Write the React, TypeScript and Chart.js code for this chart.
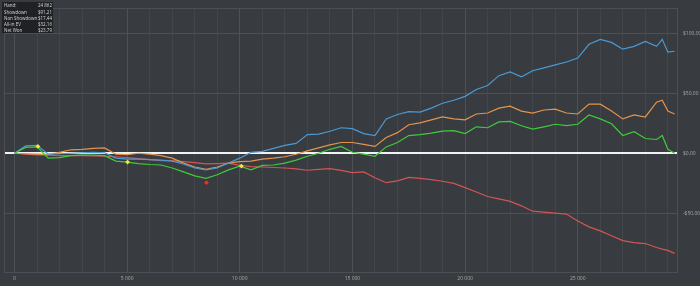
import React, { useEffect, useRef } from 'react';
import { Chart, registerables } from 'chart.js';

Chart.register(...registerables);

const hands = [
  0, 500, 1000, 1500, 2000, 2500, 3000, 3500, 4000, 4500, 5000, 5500, 6000, 6500, 7000,
  7500, 8000, 8500, 9000, 9500, 10000, 10500, 11000, 11500, 12000, 12500, 13000, 13500, 14000, 14500,
  15000, 15500, 16000, 16500, 17000, 17500, 18000, 18500, 19000, 19500, 20000, 20500, 21000, 21500, 22000,
  22500, 23000, 23500, 24000, 24500, 25000, 25500, 26000, 26500, 27000, 27500, 28000, 28500, 28750, 29000, 29300,
];

const showdown = [
  0, 6.1, 6.6, -0.8, -0.4, 0, 0.4, 0.8, 0.4, -4.1, -4.9, -4.9, -5.3, -5.7, -6.6,
  -9.0, -12.3, -13.9, -12.3, -8.2, -4.1, 0.8, 1.6, 4.1, 6.6, 8.2, 15.6, 16.0, 18.4, 21.3,
  20.5, 16.4, 14.8, 28.7, 32.4, 34.8, 34.4, 37.7, 41.8, 44.3, 47.5, 53.3, 56.6, 64.8, 68.0,
  63.9, 68.9, 71.3, 73.8, 76.2, 79.5, 91.0, 95.1, 92.6, 86.9, 89.3, 93.4, 89.3, 95.1, 84.4, 85.2,
];

const allInEV = [
  0, -0.4, -0.8, -1.2, 0.8, 2.9, 3.3, 4.1, 4.5, -0.8, -1.2, 0, -0.8, -2.0, -4.1,
  -8.2, -11.5, -13.5, -11.5, -8.2, -7.0, -6.6, -4.9, -4.1, -2.9, -0.8, 2.0, 4.5, 7.0, 9.0,
  9.0, 7.4, 5.7, 13.1, 17.2, 23.8, 25.4, 27.9, 30.3, 28.7, 27.9, 32.8, 33.6, 37.7, 39.3,
  35.2, 33.6, 36.1, 36.9, 33.6, 32.8, 41.0, 41.0, 35.2, 28.7, 32.0, 30.3, 42.6, 44.3, 35.2, 32.8,
];

const netWon = [
  0, 4.9, 5.3, -4.1, -3.7, -2.0, -1.6, -1.6, -2.0, -6.6, -7.4, -8.6, -9.4, -9.8, -12.3,
  -15.6, -18.9, -20.9, -18.0, -13.9, -10.7, -13.9, -10.2, -9.8, -8.2, -5.7, -2.5, 0, 3.3, 5.7,
  0.8, -0.8, -2.5, 5.3, 9.0, 14.8, 15.6, 16.8, 18.4, 18.9, 16.4, 22.1, 21.3, 26.2, 26.6,
  23.0, 20.1, 22.1, 24.2, 23.0, 24.2, 32.0, 28.7, 24.6, 14.8, 18.0, 12.3, 11.5, 14.8, 3.3, 0,
];

const nonShowdown = [
  0, -0.8, -1.4, -1.6, -1.9, -1.9, -2.0, -2.3, -2.5, -2.9, -3.7, -4.5, -5.3, -6.1, -6.1,
  -7.0, -7.8, -8.8, -8.6, -8.2, -10.1, -11.1, -11.5, -11.9, -12.3, -13.1, -14.2, -13.5, -12.9, -14.3,
  -16.1, -15.6, -20.5, -24.6, -23.0, -20.1, -20.9, -22.1, -23.4, -25.2, -28.7, -32.4, -36.1, -38.1, -40.2,
  -43.9, -48.4, -49.2, -50.0, -50.8, -56.6, -61.5, -64.8, -68.9, -73.0, -74.6, -75.4, -78.7, -80.0, -81.1, -83.6,
];

const starHands = [1040, 5020, 10070];
const starValues = [5.7, -7.4, -10.7];
const redMarkHands = [8520];
const redMarkValues = [-24.6];

const xGridTicks = [
  0, 1000, 2000, 3000, 4000, 5000, 6000, 7000, 8000, 9000, 10000, 11000, 12000, 13000, 14000,
  15000, 16000, 17000, 18000, 19000, 20000, 21000, 22000, 23000, 24000, 25000, 26000, 27000, 28000, 29000,
];
const yTicks = [-50, 0, 50, 100];

const legendLabels = ['Hand:', 'Showdown', 'Non Showdown', 'All-in EV', 'Net Won'];
const legendValues = ['24 862', '$91,21', '$17,44', '$32,16', '$23,79'];

const BG = '#383b3f';
const FONT = '"Open Sans", "DejaVu Sans", sans-serif';

const fmtHands = (v: number) => String(v).replace(/\B(?=(\d{3})+(?!\d))/g, ' ');
const fmtMoney = (v: number) => (v < 0 ? '-$' : '$') + Math.abs(v).toFixed(2).replace('.', ',');

export default function App() {
  const ref = useRef<HTMLCanvasElement | null>(null);

  useEffect(() => {
    document.body.style.margin = '0';
    document.body.style.background = BG;
    const canvas = ref.current;
    if (!canvas) return;

    const bgPlugin = {
      id: 'bgPlugin',
      beforeDraw(chart: any) {
        const c = chart.ctx;
        c.save();
        c.fillStyle = BG;
        c.fillRect(0, 0, chart.width, chart.height);
        c.restore();
      },
      afterDraw(chart: any) {
        const c = chart.ctx;
        const a = chart.chartArea;
        c.save();
        c.strokeStyle = '#4c4f54';
        c.lineWidth = 1;
        c.strokeRect(a.left + 0.5, a.top + 0.5, a.right - a.left - 1, a.bottom - a.top - 1);
        // legend box
        c.fillStyle = 'rgba(30,32,35,0.95)';
        c.fillRect(2, 2, 51, 31);
        c.font = '4.5px ' + FONT;
        c.fillStyle = '#d6d6d6';
        c.textBaseline = 'middle';
        const rowsY = [6, 12.3, 18.6, 24.7, 30.6];
        legendLabels.forEach((lab, i) => {
          c.textAlign = 'left';
          c.fillText(lab, 4, rowsY[i]);
          c.textAlign = 'right';
          c.fillText(legendValues[i], 52, rowsY[i]);
        });
        c.restore();
      },
    };

    const mk = (arr: number[]) => hands.map((h, i) => ({ x: h, y: arr[i] }));

    const lineDs = (label: string, arr: number[], color: string) => ({
      type: 'line' as const,
      label,
      data: mk(arr),
      borderColor: color,
      backgroundColor: color,
      borderWidth: 1.2,
      pointRadius: 0,
      tension: 0,
      fill: false,
    });

    const chart = new Chart(canvas, {
      type: 'line',
      data: {
        datasets: [
          {
            type: 'scatter' as const,
            label: 'All-in marks',
            data: starHands.map((h, i) => ({ x: h, y: starValues[i] })),
            pointStyle: 'rectRot',
            pointRadius: 2.4,
            backgroundColor: '#f3e63c',
            borderColor: '#f3e63c',
            borderWidth: 0,
            order: -1,
          },
          {
            type: 'scatter' as const,
            label: 'Low mark',
            data: redMarkHands.map((h, i) => ({ x: h, y: redMarkValues[i] })),
            pointStyle: 'rectRot',
            pointRadius: 2.4,
            backgroundColor: '#d63a3a',
            borderColor: '#d63a3a',
            borderWidth: 0,
            order: -1,
          },
          { ...lineDs('Net Won', netWon, '#3ecb3c'), order: 0 },
          { ...lineDs('Showdown', showdown, '#4a9ad4'), order: 1 },
          { ...lineDs('All-in EV', allInEV, '#e3944c'), order: 2 },
          { ...lineDs('Non Showdown', nonShowdown, '#d25555'), order: 3 },
        ] as any,
      },
      options: {
        animation: false,
        responsive: false,
        maintainAspectRatio: false,
        layout: { padding: { left: 2, top: 3, right: 0, bottom: 0 } },
        plugins: { legend: { display: false }, tooltip: { enabled: false } },
        scales: {
          x: {
            type: 'linear',
            position: 'bottom',
            min: -465,
            max: 29450,
            afterBuildTicks: (s: any) => {
              s.ticks = xGridTicks.map((v) => ({ value: v }));
            },
            afterFit: (s: any) => {
              s.height = 13;
            },
            border: { display: false },
            grid: {
              drawTicks: false,
              color: (ctx: any) =>
                ctx.tick && ctx.tick.value % 5000 === 0 ? '#4d5055' : '#42454a',
              lineWidth: 1,
            },
            ticks: {
              autoSkip: false,
              maxRotation: 0,
              padding: 3,
              color: '#a9a9a9',
              font: { size: 5, family: FONT },
              callback: (v: any) => (Number(v) % 5000 === 0 ? fmtHands(Number(v)) : ''),
            },
          },
          y: {
            type: 'linear',
            position: 'right',
            min: -100,
            max: 121.3,
            afterBuildTicks: (s: any) => {
              s.ticks = yTicks.map((v) => ({ value: v }));
            },
            afterFit: (s: any) => {
              s.width = 22;
            },
            border: { display: false },
            grid: {
              drawTicks: false,
              color: (ctx: any) => (ctx.tick && ctx.tick.value === 0 ? '#f2f2f2' : '#4d5055'),
              lineWidth: (ctx: any) => (ctx.tick && ctx.tick.value === 0 ? 2 : 1),
            },
            ticks: {
              padding: 5,
              color: '#a9a9a9',
              font: { size: 5, family: FONT },
              callback: (v: any) => fmtMoney(Number(v)),
            },
          },
        },
      },
      plugins: [bgPlugin],
    });

    return () => chart.destroy();
  }, []);

  return (
    <div style={{ width: 700, height: 286, background: BG }}>
      <canvas ref={ref} width={700} height={286} style={{ display: 'block', width: 700, height: 286 }} />
    </div>
  );
}
